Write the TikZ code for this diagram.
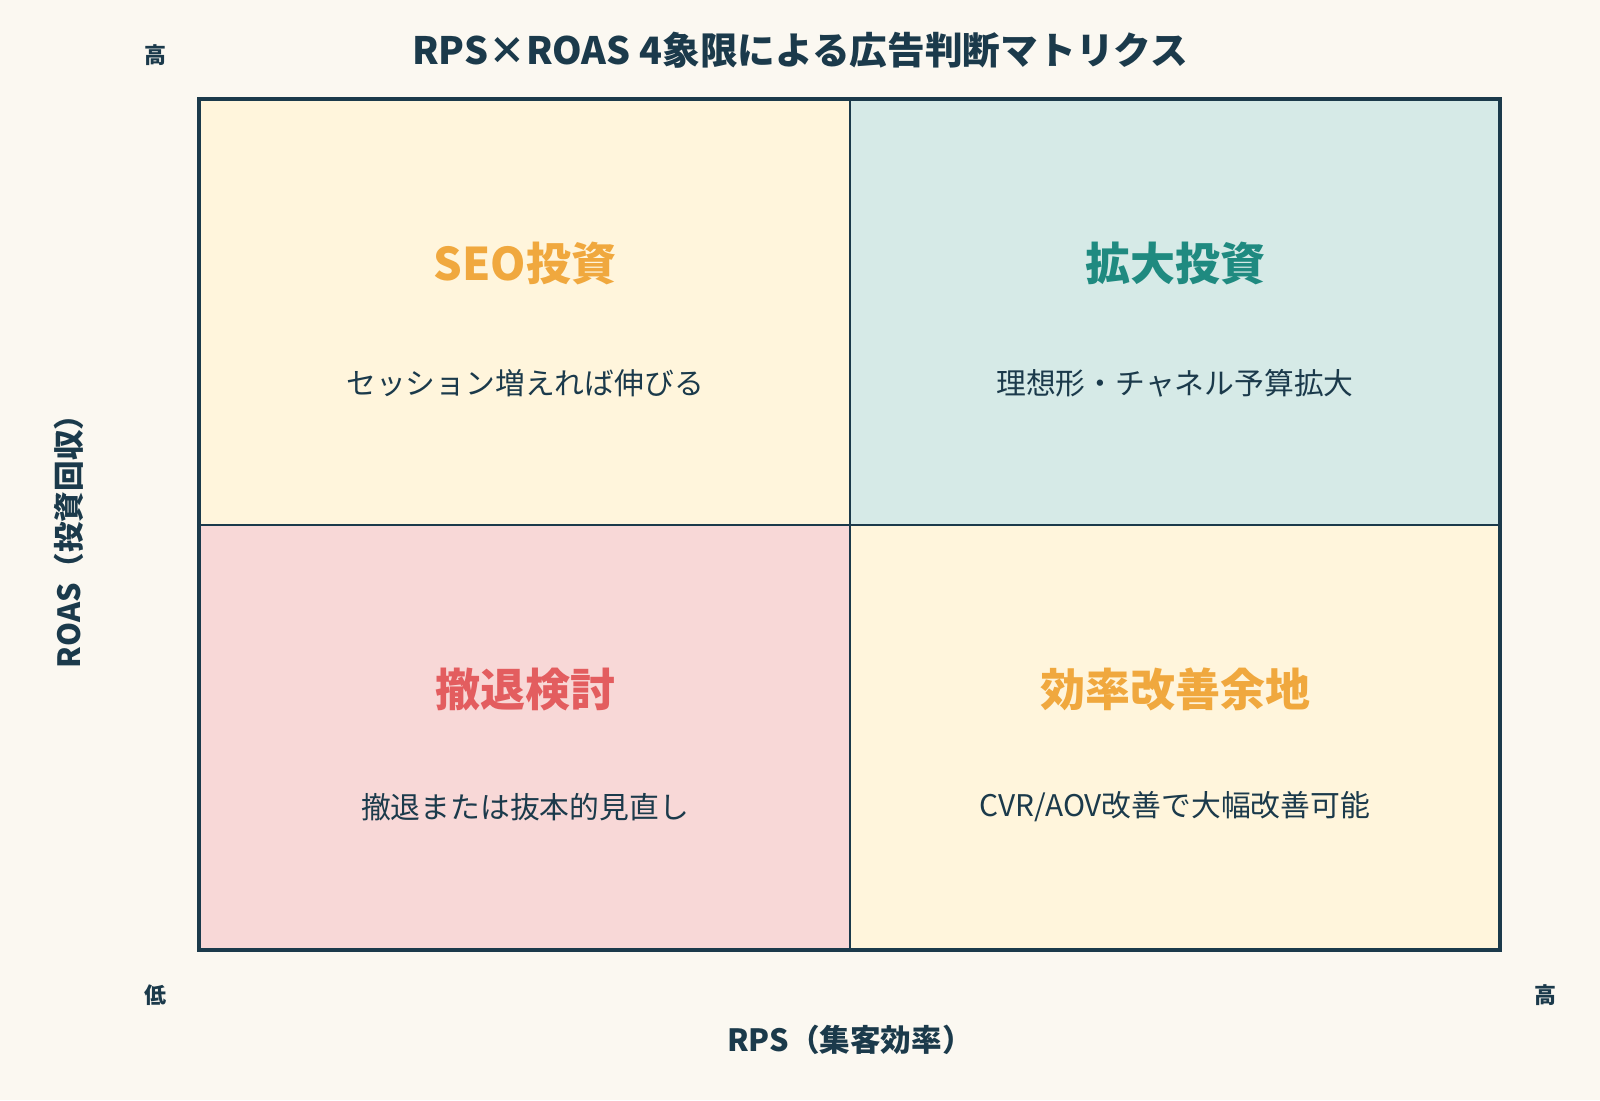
\documentclass[tikz,border=0pt]{standalone}
\usepackage{fontspec}
\setmainfont{Noto Sans CJK JP}
\definecolor{bg}{HTML}{FBF8F1}
\definecolor{navy}{HTML}{1B3A4B}
\definecolor{cream}{HTML}{FFF5DC}
\definecolor{mint}{HTML}{D6EAE7}
\definecolor{pink}{HTML}{F8D8D7}
\definecolor{orange}{HTML}{F0A83E}
\definecolor{teal}{HTML}{1F8A80}
\definecolor{redh}{HTML}{E35D5F}
\newcommand{\fpx}[1]{\fontsize{\fpeval{#1*0.5}pt}{\fpeval{#1*0.6}pt}\selectfont}
\tikzset{
  heading/.style={font=\fpx{45}\bfseries, inner sep=0pt},
  subtext/.style={font=\fpx{29.8}, text=navy, inner sep=0pt},
  axislabel/.style={font=\fpx{30.6}\bfseries, text=navy, inner sep=0pt},
  ticklabel/.style={font=\fpx{22}\bfseries, text=navy, inner sep=0pt},
}
\begin{document}
\begin{tikzpicture}[x=0.5pt,y=-0.5pt]
\fill[bg] (0,0) rectangle (1600,1100);
\useasboundingbox (0,0) rectangle (1600,1100);
% quadrants
\fill[cream] (199,99) rectangle (850,525);
\fill[mint] (850,99) rectangle (1500,525);
\fill[pink] (199,525) rectangle (850,950);
\fill[cream] (850,525) rectangle (1500,950);
\draw[navy, line width=1pt] (850,99) -- (850,950);
\draw[navy, line width=1pt] (199,525) -- (1500,525);
\draw[navy, line width=2pt] (199,99) rectangle (1500,950);
% title
\node[font=\fpx{37.7}\bfseries, text=navy, inner sep=0pt] (title) at (800,50) {RPS×ROAS 4象限による広告判断マトリクス};
% headings
\node[heading, text=orange] (h1) at (525,263) {SEO投資};
\node[subtext] (s1) at (525,383) {セッション増えれば伸びる};
\node[heading, text=teal] (h2) at (1175,263) {拡大投資};
\node[subtext] (s2) at (1175,383) {理想形・チャネル予算拡大};
\node[heading, text=redh] (h3) at (525,689) {撤退検討};
\node[subtext] (s3) at (525,807) {撤退または抜本的見直し};
\node[heading, text=orange] (h4) at (1175,689) {効率改善余地};
\node[subtext] (s4) at (1175,807) {CVR/AOV改善で大幅改善可能};
% axes
\node[axislabel, rotate=90] (ylab) at (69,534) {ROAS（投資回収）};
\node[axislabel] (xlab) at (850,1040) {RPS（集客効率）};
\node[ticklabel] (yhigh) at (155,55) {高};
\node[ticklabel] (ylow) at (155,995) {低};
\node[ticklabel] (xhigh) at (1545,995) {高};
\end{tikzpicture}
\end{document}
